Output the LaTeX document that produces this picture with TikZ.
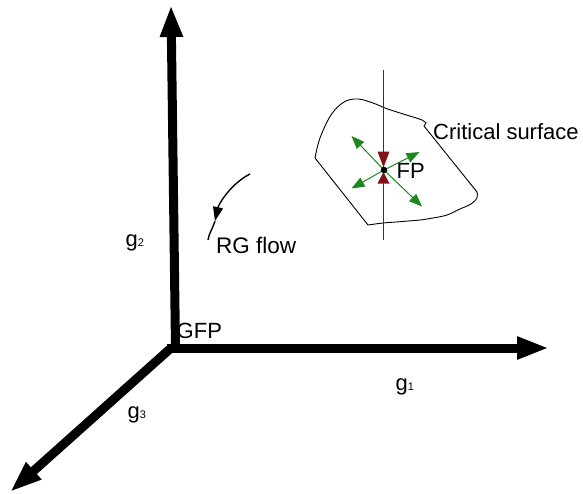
\documentclass[tikz,border=0pt]{standalone}
\usepackage{fontspec}
\setmainfont{Liberation Sans}
\usetikzlibrary{arrows.meta}
\definecolor{flowgreen}{RGB}{30,135,30}
\definecolor{fpred}{RGB}{128,20,20}
\newcommand{\subsz}[1]{{\fontsize{11}{13}\selectfont #1}}
\begin{document}
\begin{tikzpicture}[x=1pt,y=-1pt,
  axis/.style={line width=9pt,-{Triangle[length=32pt,width=21pt]}},
  lbl/.style={inner sep=0pt,anchor=base west,font=\fontsize{22}{26}\selectfont},
  greenarrow/.style={flowgreen,line width=1pt,-{Triangle[length=13pt,width=10pt]}},
  blob/.style={line width=0.9pt,black},
  redtri/.style={fill=fpred}]
\useasboundingbox (0,0) rectangle (583,493);
% axes
\coordinate (O) at (171,348);
\coordinate (Y) at (171,5);
\coordinate (X) at (549,348);
\coordinate (Z) at (10,492);
\draw[axis] (O) -- (Z);
\draw[axis] (175.5,348) -- (Y);
\draw[axis] (166.5,348) -- (X);
% labels
\node[lbl] (g2) at (125.5,246.5) {g\subsz{2}};
\node[lbl] (g1) at (395.5,390.5) {g\subsz{1}};
\node[lbl] (g3) at (127.5,418) {g\subsz{3}};
\node[lbl] (gfp) at (176.5,338.5) {GFP};
\node[lbl,font=\fontsize{22.5}{26}\selectfont] (rg) at (216,253) {RG flow};
% critical surface
\draw[blob] (315,158) -- plot[smooth,tension=0.6] coordinates {(315,158) (320,138) (331,115) (344,102) (358,99) (373,103) (385,108) (400,113) (413,117) (422,120) (426,123)} -- (424,126) -- (477,192) -- plot[smooth,tension=0.6] coordinates {(477,192) (477,198) (471,204) (460,209) (447,215) (433,218) (420,220) (408,221) (396,222) (383,223) (368,225)} -- cycle;
\node[lbl] (cs) at (433,139) {Critical surface};
% red line
\coordinate (Ltop) at (383.5,70);
\coordinate (Lbot) at (383.5,240);
\draw[fpred,line width=0.9pt] (Ltop) -- (Lbot);
\fill[redtri] (377.5,151.5) -- (389.5,151.5) -- (383.5,167.5) -- cycle;
\fill[redtri] (377.5,183.5) -- (389.5,183.5) -- (383.5,172) -- cycle;
% green arrows
\coordinate (FPc) at (384,170);
\coordinate (ul) at (351.5,136);
\coordinate (ur) at (419.5,152);
\coordinate (dl) at (351.5,188.5);
\coordinate (dr) at (422,206.5);
\draw[greenarrow] (FPc) -- (ul);
\draw[greenarrow] (FPc) -- (ur);
\draw[greenarrow] (FPc) -- (dl);
\draw[greenarrow] (FPc) -- (dr);
\node[circle,fill=black,inner sep=0pt,minimum size=6.5pt] (FP) at (FPc) {};
\node[lbl] (fpl) at (396.5,178.5) {FP};
% RG flow arrow
\coordinate (r1) at (250,174);
\coordinate (r2) at (215,221);
\coordinate (r3) at (208,240);
\draw[line width=1.4pt,-{Triangle[length=14pt,width=10pt]}] (r1) .. controls (232,183) and (219,203) .. (r2);
\draw[line width=1.4pt] (r2) .. controls (213,228) and (209,233) .. (r3);
\end{tikzpicture}
\end{document}
